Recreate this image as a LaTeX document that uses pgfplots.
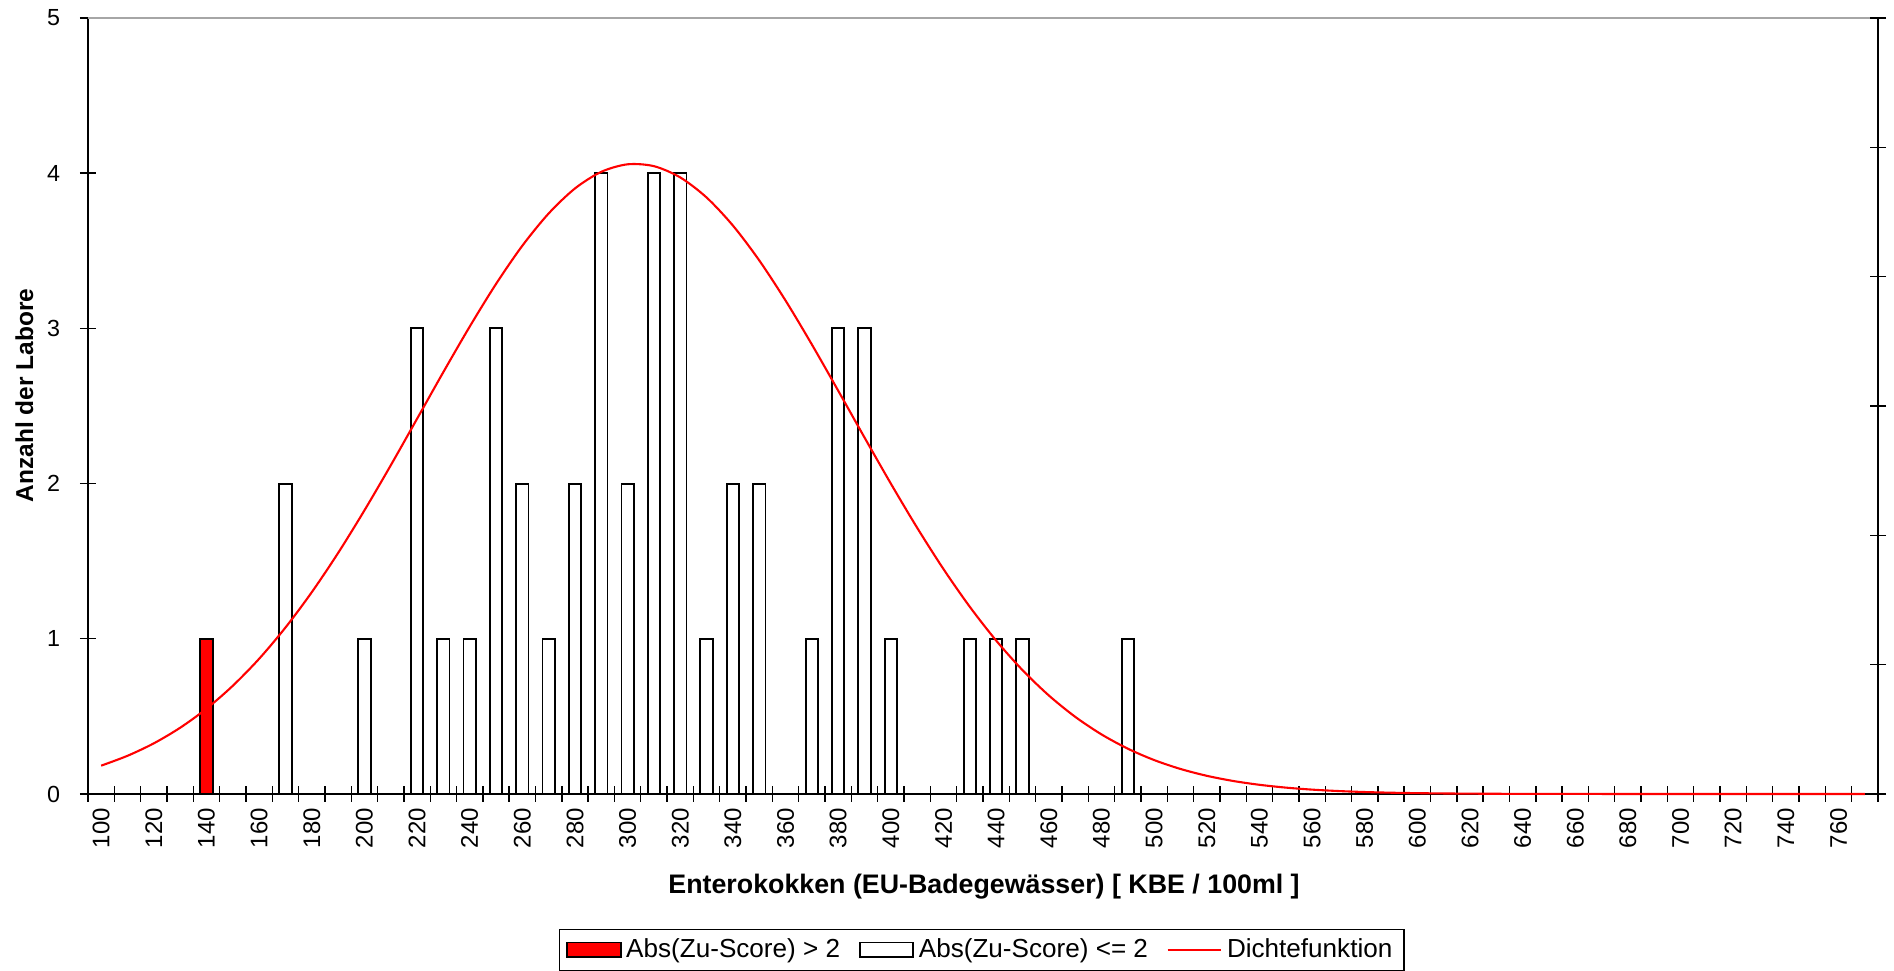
\documentclass[border=0pt]{standalone}
\usepackage{fontspec}
\setmainfont{Liberation Sans}
\usepackage{pgfplots}
\pgfplotsset{compat=1.18}

\pgfplotstableread{
x y
100 0.1825
110 0.2460
120 0.3263
130 0.4267
140 0.5494
150 0.6971
160 0.8709
170 1.0722
180 1.2999
190 1.5525
200 1.8270
210 2.1173
220 2.4173
230 2.7186
240 3.0113
250 3.2862
260 3.5326
270 3.7405
280 3.9017
290 4.0088
300 4.0572
310 4.0451
320 3.9726
330 3.8432
340 3.6624
350 3.4380
360 3.1791
370 2.8958
380 2.5983
390 2.2965
400 1.9995
410 1.7149
420 1.4487
430 1.2057
440 0.9884
450 0.7981
460 0.6349
470 0.4975
480 0.3840
490 0.2920
500 0.2187
510 0.1613
520 0.1172
530 0.0839
540 0.0592
550 0.0411
560 0.0281
570 0.0190
580 0.0126
590 0.0082
600 0.0053
610 0.0034
620 0.0021
630 0.0013
640 0.0008
650 0.0005
660 0.0003
670 0.0002
680 0.0001
690 0.0001
700 0.0000
710 0.0000
720 0.0000
730 0.0000
740 0.0000
750 0.0000
760 0.0000
770 0.0000
}\density

\begin{document}
\begin{tikzpicture}
\useasboundingbox (-37.77pt,-75.97pt) rectangle (775.14pt,340.78pt);
\begin{axis}[
  at={(0,0)}, anchor=south west,
  scale only axis, width=768.27pt, height=333.06pt,
  xmin=95, xmax=775, ymin=0, ymax=5,
  axis x line*=bottom, axis y line*=left,
  axis line style={black, line width=0.6pt},
  tick style={black, line width=0.6pt},
  tick align=center, major tick length=6.87pt,
  xtick={95,105,...,775}, xticklabels={},
  extra x ticks={100,120,...,760},
  extra x tick style={major tick length=0pt,
     tick label style={font=\fontsize{10.3}{12}\selectfont, yshift=-2.5pt, rotate=90, anchor=east}},
  ytick={0,1,2,3,4,5},
  yticklabel style={xshift=-5pt},
  /pgf/number format/assume math mode=true,
  /pgf/number format/1000 sep={},
  tick label style={font=\fontsize{10}{12}\selectfont},
  xlabel={\textbf{Enterokokken (EU-Badegewässer) [ KBE / 100ml ]}},
  ylabel={\textbf{Anzahl der Labore}},
  xlabel style={font=\fontsize{11.5}{13}\selectfont, at={(axis description cs:0.5006,-0.1198)}, anchor=center},
  ylabel style={font=\fontsize{10.5}{12}\selectfont, at={(axis description cs:-0.0355,0.5135)}, anchor=center},
  legend columns=3,
  legend style={at={(axis description cs:0.4992,-0.201)}, anchor=center,
     draw=black, line width=0.5pt, font=\fontsize{11.2}{13}\selectfont,
     inner xsep=3pt, inner ysep=2pt,
     /tikz/every even column/.append style={column sep=6pt}},
  clip=false,
]
\addplot[ybar, bar width=4.7, bar shift=0pt, fill=red, draw=black, line width=0.8pt,
  legend image code/.code={\draw[fill=red,draw=black,line width=0.8pt] (0pt,-3.2pt) rectangle (23pt,3.2pt);}]
  coordinates {(140,1)};
\addlegendentry{Abs(Zu-Score) > 2}
\addplot[ybar, bar width=4.7, bar shift=0pt, fill=white, draw=black, line width=0.8pt,
  legend image code/.code={\draw[fill=white,draw=black,line width=0.8pt] (0pt,-3.2pt) rectangle (23pt,3.2pt);}]
  coordinates {(170,2) (200,1) (220,3) (230,1) (240,1) (250,3) (260,2) (270,1)
   (280,2) (290,4) (300,2) (310,4) (320,4) (330,1) (340,2) (350,2) (370,1)
   (380,3) (390,3) (400,1) (430,1) (440,1) (450,1) (490,1)};
\addlegendentry{Abs(Zu-Score) <= 2}
\addplot[red, line width=0.9pt, smooth, mark=none,
  legend image code/.code={\draw[red,line width=0.9pt] (0pt,0pt) -- (23pt,0pt);}]
  table[x=x,y=y] {\density};
\addlegendentry{Dichtefunktion}
\draw[gray!70, line width=0.6pt] (rel axis cs:0,1) -- (rel axis cs:1,1);
\end{axis}
\begin{axis}[
  at={(0,0)}, anchor=south west,
  scale only axis, width=768.27pt, height=333.06pt,
  xmin=95, xmax=775, ymin=0, ymax=6,
  hide x axis, axis y line*=right,
  axis line style={black, line width=0.6pt},
  tick style={black, line width=0.6pt},
  tick align=center, major tick length=6.87pt,
  ytick={0,1,2,3,4,5,6}, yticklabels={},
]
\addplot[draw=none] coordinates {(100,0)};
\end{axis}
\end{tikzpicture}
\end{document}
